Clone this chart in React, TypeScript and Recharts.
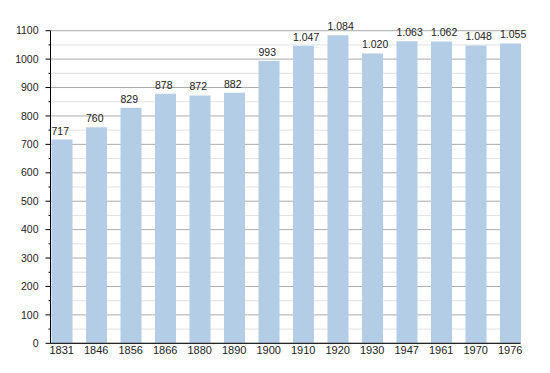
import { BarChart, Bar, XAxis, YAxis, CartesianGrid, LabelList } from 'recharts';

const years = ['1831', '1846', '1856', '1866', '1880', '1890', '1900', '1910', '1920', '1930', '1947', '1961', '1970', '1976'];
const population = [717, 760, 829, 878, 872, 882, 993, 1047, 1084, 1020, 1063, 1062, 1048, 1055];
const majorTicks = [0, 100, 200, 300, 400, 500, 600, 700, 800, 900, 1000, 1100];
const minorTicks = [50, 150, 250, 350, 450, 550, 650, 750, 850, 950, 1050];
const allTicks = [...majorTicks, ...minorTicks].sort((a, b) => a - b);

const data = years.map((year, i) => ({ year, value: population[i] }));

const FONT = '"Liberation Sans", Arial, sans-serif';

const formatValue = (v: number) => (v >= 1000 ? `${Math.floor(v / 1000)}.${String(v % 1000).padStart(3, '0')}` : String(v));

const YTick = (props: any) => {
  const { x, y, payload } = props;
  const major = payload.value % 100 === 0;
  return (
    <g>
      <line x1={x - (major ? 5 : 2)} x2={x} y1={y} y2={y} stroke="#000" />
      {major && (
        <text x={x - 12} y={y} dy="0.35em" textAnchor="end" fontSize={10.5} fill="#222" fontFamily={FONT}>
          {payload.value}
        </text>
      )}
    </g>
  );
};

const ValueLabel = (props: any) => {
  const { x, y, value } = props;
  return (
    <text x={x} y={y - 5} textAnchor="start" fontSize={10.5} fill="#222" fontFamily={FONT}>
      {formatValue(value)}
    </text>
  );
};

export default function App() {
  return (
    <div style={{ position: 'absolute', left: 0, top: 0, width: 550, height: 373, background: '#fff' }}>
      <BarChart
        width={550}
        height={373}
        data={data}
        margin={{ top: 30.7, right: 29.5, bottom: 9.7, left: 0.5 }}
        barCategoryGap={7}
      >
        <CartesianGrid vertical={false} horizontalValues={minorTicks} stroke="#e2e2e2" />
        <CartesianGrid vertical={false} horizontalValues={majorTicks} stroke="#ababab" />
        <XAxis
          dataKey="year"
          padding={{ left: -6, right: -7 }}
          tickLine={false}
          tickSize={0}
          tickMargin={3}
          height={20}
          interval={0}
          axisLine={{ stroke: '#000' }}
          tick={{ fontSize: 11, fill: '#222', fontFamily: FONT }}
        />
        <YAxis
          domain={[0, 1100]}
          ticks={allTicks}
          interval={0}
          width={50}
          tickLine={false}
          tickSize={0}
          tickMargin={0}
          axisLine={{ stroke: '#000' }}
          tick={<YTick />}
        />
        <Bar dataKey="value" fill="#b4cde6" isAnimationActive={false}>
          <LabelList dataKey="value" content={<ValueLabel />} />
        </Bar>
      </BarChart>
    </div>
  );
}
